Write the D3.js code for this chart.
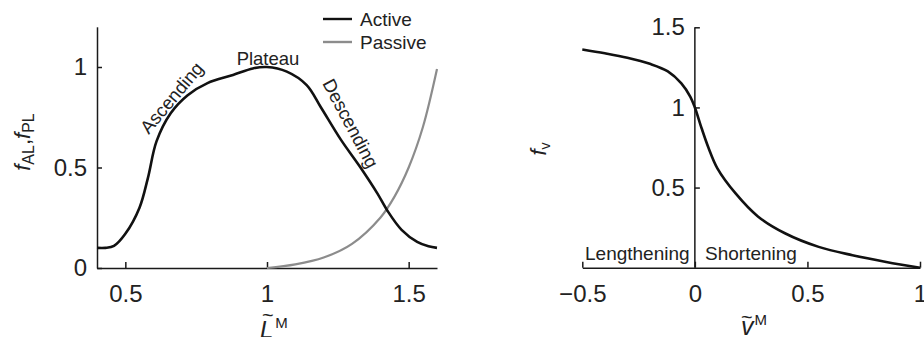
<!DOCTYPE html>
<html>
<head>
<meta charset="utf-8">
<script src="https://cdn.jsdelivr.net/npm/d3@7"></script>
<style>
  html, body { margin: 0; padding: 0; background: #fff; }
  svg { display: block; font-family: "Liberation Sans", Arial, sans-serif; }
  .axis path, .axis line { stroke: #1a1a1a; stroke-width: 1.5; }
  .axis text { font-size: 24px; fill: #222; font-family: "Liberation Sans", Arial, sans-serif; }
</style>
</head>
<body>
<svg id="chart" width="924" height="337"></svg>
<script>
// Force–length relationship (normalized fibre length vs. normalized force)
const activeL = [0.40, 0.43, 0.46, 0.50, 0.55, 0.58, 0.61, 0.66, 0.72, 0.79, 0.88, 0.95, 1.00, 1.07, 1.14, 1.19, 1.26, 1.33, 1.39, 1.425, 1.475, 1.53, 1.57, 1.60];
const activeF = [0.10, 0.10, 0.11, 0.17, 0.30, 0.45, 0.63, 0.77, 0.86, 0.92, 0.96, 0.993, 1.00, 0.977, 0.91, 0.80, 0.64, 0.50, 0.37, 0.285, 0.19, 0.13, 0.108, 0.10];
const passiveL = [1.00, 1.10, 1.20, 1.30, 1.40, 1.45, 1.50, 1.55, 1.60];
const passiveF = [0.00, 0.018, 0.052, 0.12, 0.25, 0.355, 0.50, 0.70, 0.99];
const lengthTicksX = [0.5, 1, 1.5];
const lengthTicksY = [0, 0.5, 1];

// Force–velocity relationship (normalized fibre velocity vs. force multiplier)
const velocityV = [-0.5, -0.4, -0.3, -0.2, -0.12, -0.06, -0.02, 0, 0.03, 0.06, 0.10, 0.18, 0.28, 0.40, 0.55, 0.70, 0.85, 1.00];
const velocityF = [1.362, 1.338, 1.31, 1.272, 1.225, 1.15, 1.066, 1.00, 0.87, 0.75, 0.62, 0.465, 0.32, 0.215, 0.13, 0.078, 0.036, 0.00];
const velocityTicksX = [-0.5, 0, 0.5, 1];
const velocityTicksY = [0.5, 1, 1.5];

const svg = d3.select("#chart");
const fmt = d3.format("");

// ---------- left panel ----------
const xL = d3.scaleLinear().domain([0.4, 1.6]).range([97, 437]);
const yL = d3.scaleLinear().domain([0, 1.2]).range([268, 26.8]);

svg.append("g").attr("class", "axis")
  .attr("transform", `translate(0,${yL(0)})`)
  .call(d3.axisBottom(xL).tickValues(lengthTicksX).tickFormat(fmt)
    .tickSizeInner(-6).tickSizeOuter(0).tickPadding(17));

svg.append("g").attr("class", "axis")
  .attr("transform", `translate(${xL(0.4)},0)`)
  .call(d3.axisLeft(yL).tickValues(lengthTicksY).tickFormat(fmt)
    .tickSizeInner(-5).tickSizeOuter(0).tickPadding(10));

const smooth = d3.line().curve(d3.curveCatmullRom.alpha(0.5));

svg.append("path")
  .attr("d", smooth(passiveL.map((d, i) => [xL(d), yL(passiveF[i])])))
  .attr("fill", "none").attr("stroke", "#8c8c8c").attr("stroke-width", 2.2);

svg.append("path")
  .attr("d", smooth(activeL.map((d, i) => [xL(d), yL(activeF[i])])))
  .attr("fill", "none").attr("stroke", "#111").attr("stroke-width", 2.6);

// region annotations along the active curve
const note = (x, y, angle, txt) => svg.append("text")
  .attr("transform", `translate(${x},${y}) rotate(${angle})`)
  .attr("text-anchor", "middle").attr("font-size", 18.5).attr("fill", "#222")
  .text(txt);
note(176.6, 101.9, -50, "Ascending");
note(268, 65, 0, "Plateau");
note(345, 126.5, 62, "Descending");

// legend
const legend = [["Active", "#111", 19], ["Passive", "#8c8c8c", 42]];
legend.forEach(([name, col, y]) => {
  svg.append("line").attr("x1", 323).attr("x2", 352).attr("y1", y).attr("y2", y)
    .attr("stroke", col).attr("stroke-width", 2.4);
  svg.append("text").attr("x", 360).attr("y", y + 7).attr("font-size", 19)
    .attr("fill", "#222").text(name);
});

// axis titles
const yTitleL = svg.append("text")
  .attr("transform", "translate(30,142) rotate(-90)")
  .attr("text-anchor", "middle").attr("font-size", 22).attr("fill", "#222");
yTitleL.append("tspan").attr("font-style", "italic").text("f");
yTitleL.append("tspan").attr("font-size", 16).attr("dy", 4).text("AL");
yTitleL.append("tspan").attr("dy", -4).text(",");
yTitleL.append("tspan").attr("font-style", "italic").text("f");
yTitleL.append("tspan").attr("font-size", 16).attr("dy", 4).text("PL");

const xTitleL = svg.append("text").attr("x", 260).attr("y", 338)
  .attr("font-size", 24).attr("fill", "#222");
xTitleL.append("tspan").attr("font-style", "italic").text("L");
xTitleL.append("tspan").attr("font-size", 15).attr("dy", -10).attr("dx", 2).text("M");
svg.append("text").attr("x", 262).attr("y", 322).attr("font-size", 20)
  .attr("fill", "#222").text("~");

// ---------- right panel ----------
const xV = d3.scaleLinear().domain([-0.5, 1]).range([582.3, 920]);
const yV = d3.scaleLinear().domain([0, 1.5]).range([267.7, 27.3]);

svg.append("g").attr("class", "axis")
  .attr("transform", `translate(0,${yV(0)})`)
  .call(d3.axisBottom(xV).tickValues(velocityTicksX).tickFormat(d3.format(""))
    .tickSizeInner(-6).tickSizeOuter(0).tickPadding(17));

svg.append("g").attr("class", "axis")
  .attr("transform", `translate(${xV(0)},0)`)
  .call(d3.axisLeft(yV).tickValues(velocityTicksY).tickFormat(fmt)
    .tickSizeInner(-5).tickSizeOuter(0).tickPadding(10))
  .call(g => g.select(".domain").attr("d", `M0,${yV(0)}V${yV(1.5)}`));

svg.append("path")
  .attr("d", smooth(velocityV.map((d, i) => [xV(d), yV(velocityF[i])])))
  .attr("fill", "none").attr("stroke", "#111").attr("stroke-width", 2.6);

svg.append("text").attr("x", 585).attr("y", 259.5).attr("font-size", 19)
  .attr("fill", "#222").text("Lengthening");
svg.append("text").attr("x", 705).attr("y", 259.5).attr("font-size", 19)
  .attr("fill", "#222").text("Shortening");

const yTitleV = svg.append("text")
  .attr("transform", "translate(546,149) rotate(-90)")
  .attr("text-anchor", "middle").attr("font-size", 22).attr("fill", "#222");
yTitleV.append("tspan").attr("font-style", "italic").text("f");
yTitleV.append("tspan").attr("font-size", 14).attr("dy", 4).text("v");

const xTitleV = svg.append("text").attr("x", 741).attr("y", 335)
  .attr("font-size", 25).attr("fill", "#222");
xTitleV.append("tspan").attr("font-style", "italic").text("v");
xTitleV.append("tspan").attr("font-size", 15).attr("dy", -10).attr("dx", 1).text("M");
svg.append("text").attr("x", 741).attr("y", 324).attr("font-size", 20)
  .attr("fill", "#222").text("~");
</script>
</body>
</html>
